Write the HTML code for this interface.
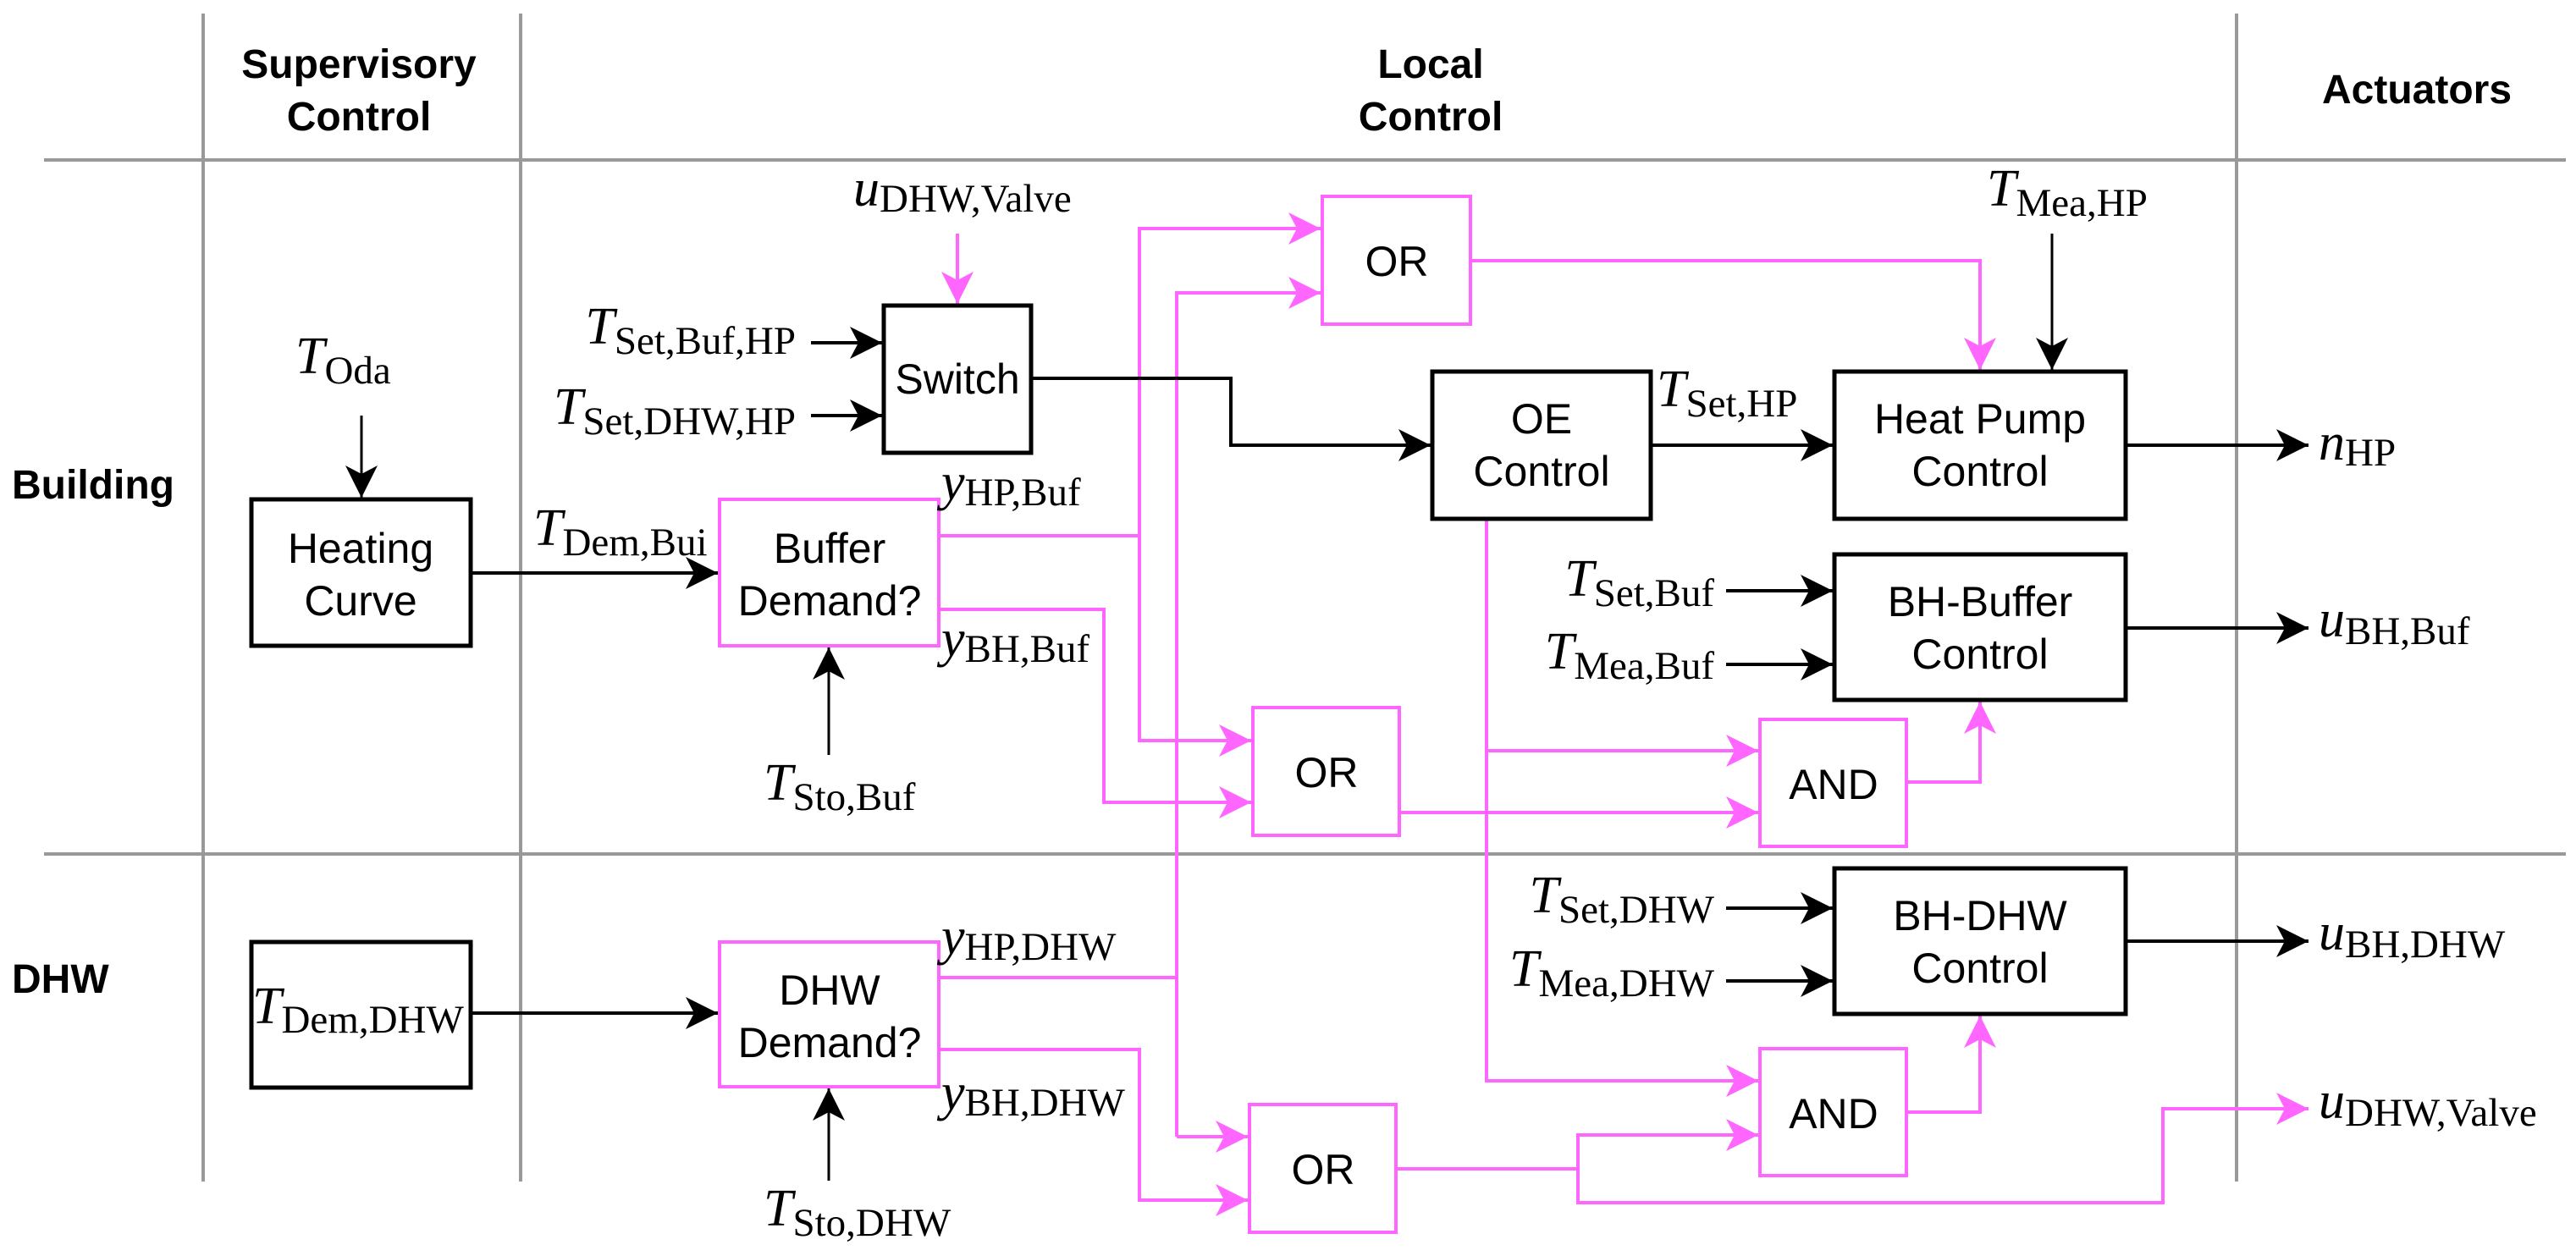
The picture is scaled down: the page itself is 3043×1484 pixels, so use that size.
<!DOCTYPE html>
<html><head><meta charset="utf-8"><style>
html,body{margin:0;padding:0;background:#fff;}
svg{display:block;}
.h{font-family:"Liberation Sans",sans-serif;font-weight:bold;font-size:48px;fill:#000;}
.b{font-family:"Liberation Sans",sans-serif;font-size:50px;fill:#000;}
.m{font-family:"Liberation Serif",serif;font-size:62px;fill:#000;}
.m .i{font-style:italic;}
.m .s{font-size:47px;}
</style></head><body>
<svg width="3043" height="1484" viewBox="0 0 3043 1484" xmlns="http://www.w3.org/2000/svg">
<defs>
<marker id="ak" markerUnits="userSpaceOnUse" markerWidth="40" markerHeight="40" refX="38" refY="20" orient="auto"><path d="M0,1 L38,20 L0,39 L10,20 Z" fill="#000"/></marker>
<marker id="ap" markerUnits="userSpaceOnUse" markerWidth="40" markerHeight="40" refX="38" refY="20" orient="auto"><path d="M0,1 L38,20 L0,39 L10,20 Z" fill="#ff66ff"/></marker>
</defs>
<g stroke="#999" stroke-width="4" fill="none">
<line x1="240" y1="16" x2="240" y2="1396"/>
<line x1="615" y1="16" x2="615" y2="1396"/>
<line x1="2642" y1="16" x2="2642" y2="1396"/>
<line x1="52" y1="189" x2="3031" y2="189"/>
<line x1="52" y1="1009" x2="3031" y2="1009"/>
</g>
<text class="h" x="424" y="92" text-anchor="middle">Supervisory</text>
<text class="h" x="424" y="154" text-anchor="middle">Control</text>
<text class="h" x="1690" y="92" text-anchor="middle">Local</text>
<text class="h" x="1690" y="154" text-anchor="middle">Control</text>
<text class="h" x="2855" y="122" text-anchor="middle">Actuators</text>
<text class="h" x="14" y="589">Building</text>
<text class="h" x="14" y="1173">DHW</text>

<g stroke="#ff66ff" stroke-width="4" fill="none">
<line x1="1131" y1="276" x2="1131" y2="359" marker-end="url(#ap)"/>
<polyline points="1109,633 1346,633 1346,270 1560,270" marker-end="url(#ap)"/>
<polyline points="1346,633 1346,875 1478,875" marker-end="url(#ap)"/>
<polyline points="1109,720 1304,720 1304,948 1478,948" marker-end="url(#ap)"/>
<polyline points="1390,1343 1390,346 1560,346" marker-end="url(#ap)"/>
<polyline points="1109,1155 1390,1155"/>
<polyline points="1390,1343 1474,1343" marker-end="url(#ap)"/>
<polyline points="1109,1240 1346,1240 1346,1418 1474,1418" marker-end="url(#ap)"/>
<polyline points="1737,308 2339,308 2339,437" marker-end="url(#ap)"/>
<polyline points="1756,613 1756,1277 2077,1277" marker-end="url(#ap)"/>
<polyline points="1756,887 2077,887" marker-end="url(#ap)"/>
<polyline points="1653,960 2077,960" marker-end="url(#ap)"/>
<polyline points="2252,924 2339,924 2339,829" marker-end="url(#ap)"/>
<polyline points="2252,1314 2339,1314 2339,1200" marker-end="url(#ap)"/>
<polyline points="1649,1381 1864,1381 1864,1341 2077,1341" marker-end="url(#ap)"/>
<polyline points="1864,1381 1864,1421 2555,1421 2555,1310 2727,1310" marker-end="url(#ap)"/>
</g>
<g stroke="#000" stroke-width="4" fill="none">
<line x1="427" y1="491" x2="427" y2="588" stroke-width="3" marker-end="url(#ak)"/>
<line x1="958" y1="405" x2="1042" y2="405" marker-end="url(#ak)"/>
<line x1="958" y1="491" x2="1042" y2="491" marker-end="url(#ak)"/>
<polyline points="1218,447 1454,447 1454,526 1690,526" marker-end="url(#ak)"/>
<line x1="556" y1="677" x2="848" y2="677" marker-end="url(#ak)"/>
<line x1="979" y1="892" x2="979" y2="765" stroke-width="3" marker-end="url(#ak)"/>
<line x1="556" y1="1197" x2="848" y2="1197" marker-end="url(#ak)"/>
<line x1="979" y1="1395" x2="979" y2="1286" stroke-width="3" marker-end="url(#ak)"/>
<line x1="2424" y1="276" x2="2424" y2="437" stroke-width="3" marker-end="url(#ak)"/>
<line x1="1950" y1="526" x2="2165" y2="526" marker-end="url(#ak)"/>
<line x1="2511" y1="526" x2="2727" y2="526" marker-end="url(#ak)"/>
<line x1="2039" y1="698" x2="2165" y2="698" marker-end="url(#ak)"/>
<line x1="2039" y1="785" x2="2165" y2="785" marker-end="url(#ak)"/>
<line x1="2511" y1="742" x2="2727" y2="742" marker-end="url(#ak)"/>
<line x1="2039" y1="1073" x2="2165" y2="1073" marker-end="url(#ak)"/>
<line x1="2039" y1="1159" x2="2165" y2="1159" marker-end="url(#ak)"/>
<line x1="2511" y1="1112" x2="2727" y2="1112" marker-end="url(#ak)"/>
</g>
<g fill="#fff" stroke-width="5">
<rect x="297" y="590" width="259" height="173" stroke="#000"/>
<rect x="297" y="1113" width="259" height="172" stroke="#000"/>
<rect x="1044" y="361" width="174" height="174" stroke="#000"/>
<rect x="1692" y="439" width="258" height="174" stroke="#000"/>
<rect x="2167" y="439" width="344" height="174" stroke="#000"/>
<rect x="2167" y="655" width="344" height="172" stroke="#000"/>
<rect x="2167" y="1026" width="344" height="172" stroke="#000"/>
<rect x="850" y="590" width="259" height="173" stroke="#ff66ff" stroke-width="4"/>
<rect x="850" y="1113" width="259" height="171" stroke="#ff66ff" stroke-width="4"/>
<rect x="1562" y="232" width="175" height="151" stroke="#ff66ff" stroke-width="4"/>
<rect x="1480" y="836" width="173" height="151" stroke="#ff66ff" stroke-width="4"/>
<rect x="1476" y="1305" width="173" height="151" stroke="#ff66ff" stroke-width="4"/>
<rect x="2079" y="850" width="173" height="150" stroke="#ff66ff" stroke-width="4"/>
<rect x="2079" y="1239" width="173" height="150" stroke="#ff66ff" stroke-width="4"/>
</g>
<g class="b" text-anchor="middle">
<text x="426" y="665">Heating</text><text x="426" y="727">Curve</text>
<text x="1131" y="465">Switch</text>
<text x="980" y="665">Buffer</text><text x="980" y="727">Demand?</text>
<text x="980" y="1187">DHW</text><text x="980" y="1249">Demand?</text>
<text x="1650" y="326">OR</text>
<text x="1567" y="930">OR</text>
<text x="1563" y="1399">OR</text>
<text x="2166" y="944">AND</text>
<text x="2166" y="1333">AND</text>
<text x="1821" y="512">OE</text><text x="1821" y="574">Control</text>
<text x="2339" y="512">Heat Pump</text><text x="2339" y="574">Control</text>
<text x="2339" y="728">BH-Buffer</text><text x="2339" y="790">Control</text>
<text x="2339" y="1099">BH-DHW</text><text x="2339" y="1161">Control</text>
</g>
<text class="m" x="349" y="441"><tspan class="i">T</tspan><tspan class="s" dy="12">Oda</tspan></text>
<text class="m" x="1008" y="243"><tspan class="i">u</tspan><tspan class="s" dy="7">DHW,Valve</tspan></text>
<text class="m" x="940" y="406" text-anchor="end"><tspan class="i">T</tspan><tspan class="s" dy="12">Set,Buf,HP</tspan></text>
<text class="m" x="940" y="501" text-anchor="end"><tspan class="i">T</tspan><tspan class="s" dy="12">Set,DHW,HP</tspan></text>
<text class="m" x="630" y="644"><tspan class="i">T</tspan><tspan class="s" dy="12">Dem,Bui</tspan></text>
<text class="m" x="1112" y="590"><tspan class="i">y</tspan><tspan class="s" dy="7">HP,Buf</tspan></text>
<text class="m" x="1112" y="775"><tspan class="i">y</tspan><tspan class="s" dy="7">BH,Buf</tspan></text>
<text class="m" x="902" y="945"><tspan class="i">T</tspan><tspan class="s" dy="12">Sto,Buf</tspan></text>
<text class="m" x="298" y="1209"><tspan class="i">T</tspan><tspan class="s" dy="11">Dem,DHW</tspan></text>
<text class="m" x="1112" y="1127"><tspan class="i">y</tspan><tspan class="s" dy="7">HP,DHW</tspan></text>
<text class="m" x="1112" y="1311"><tspan class="i">y</tspan><tspan class="s" dy="7">BH,DHW</tspan></text>
<text class="m" x="902" y="1448"><tspan class="i">T</tspan><tspan class="s" dy="12">Sto,DHW</tspan></text>
<text class="m" x="2347" y="243"><tspan class="i">T</tspan><tspan class="s" dy="12">Mea,HP</tspan></text>
<text class="m" x="1957" y="480"><tspan class="i">T</tspan><tspan class="s" dy="12">Set,HP</tspan></text>
<text class="m" x="2739" y="543"><tspan class="i">n</tspan><tspan class="s" dy="7">HP</tspan></text>
<text class="m" x="2025" y="704" text-anchor="end"><tspan class="i">T</tspan><tspan class="s" dy="12">Set,Buf</tspan></text>
<text class="m" x="2025" y="790" text-anchor="end"><tspan class="i">T</tspan><tspan class="s" dy="12">Mea,Buf</tspan></text>
<text class="m" x="2739" y="752"><tspan class="i">u</tspan><tspan class="s" dy="9">BH,Buf</tspan></text>
<text class="m" x="2025" y="1078" text-anchor="end"><tspan class="i">T</tspan><tspan class="s" dy="12">Set,DHW</tspan></text>
<text class="m" x="2025" y="1165" text-anchor="end"><tspan class="i">T</tspan><tspan class="s" dy="12">Mea,DHW</tspan></text>
<text class="m" x="2739" y="1122"><tspan class="i">u</tspan><tspan class="s" dy="9">BH,DHW</tspan></text>
<text class="m" x="2739" y="1321"><tspan class="i">u</tspan><tspan class="s" dy="9">DHW,Valve</tspan></text>
</svg>
</body></html>
